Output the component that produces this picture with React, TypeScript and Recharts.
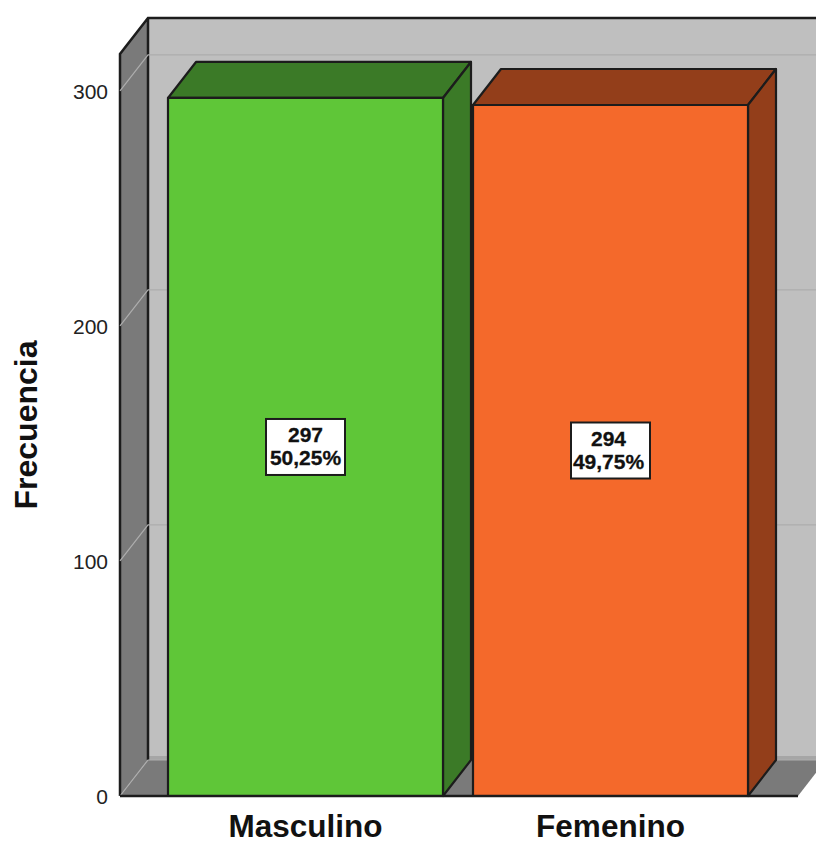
import React from "react";
import {
  BarChart,
  Bar,
  XAxis,
  YAxis,
  CartesianGrid,
  LabelList,
  Cell,
  usePlotArea,
} from "recharts";

const categories = ["Masculino", "Femenino"];
const counts = [297, 294];
const percents = ["50,25%", "49,75%"];
const yTicks = [0, 100, 200, 300];
const yMax = 315.7;

const faceColors = ["#5fc638", "#f4692b"];
const shadeColors = ["#3b7a27", "#933e1a"];

const data = categories.map((name, i) => ({ name, count: counts[i], percent: percents[i] }));

// depth of the fake 3D projection
const DX = 28;
const DY = 36;
const FONT = "'Liberation Sans', Arial, sans-serif";
const EDGE = "#1c1c1c";

// back wall, side wall and floor behind the bars
const Walls = () => {
  const plot = usePlotArea();
  if (!plot) return null;
  const left = plot.x;
  const right = plot.x + plot.width;
  const top = plot.y;
  const bottom = plot.y + plot.height;
  return (
    <g>
      <rect x={left + DX} y={top - DY} width={right - left} height={bottom - top} fill="#bfbfbf" />
      <rect x={left + DX} y={bottom - DY - 4} width={right - left} height={4} fill="#a6a6a6" />
      <polygon
        points={`${left},${top} ${left + DX},${top - DY} ${left + DX},${bottom - DY} ${left},${bottom}`}
        fill="#7a7a7a"
      />
      <polygon
        points={`${left},${bottom} ${left + DX},${bottom - DY} ${right + DX},${bottom - DY} ${right},${bottom}`}
        fill="#7a7a7a"
      />
      <path
        d={`M${left},${bottom} L${left},${top} L${left + DX},${top - DY} L${right + DX},${top - DY} M${left + DX},${top - DY} L${left + DX},${bottom - DY}`}
        fill="none"
        stroke={EDGE}
        strokeWidth={2.5}
      />
    </g>
  );
};

// gridline bent along the side wall and on across the back wall
const GridLine = (props: any) => {
  const { x1, x2, y1 } = props;
  return (
    <path
      key={props.key ?? y1}
      d={`M${x1},${y1} L${x1 + DX},${y1 - DY} L${x2 + DX},${y1 - DY}`}
      fill="none"
      stroke="#adadad"
      strokeWidth={1.2}
    />
  );
};

const Box3D = (props: any) => {
  const { x, y, width, height, index } = props;
  const face = faceColors[index];
  const shade = shadeColors[index];
  const r = x + width;
  const b = y + height;
  return (
    <g stroke={EDGE} strokeWidth={2.2} strokeLinejoin="round">
      <polygon points={`${x},${y} ${x + DX},${y - DY} ${r + DX},${y - DY} ${r},${y}`} fill={shade} />
      <polygon points={`${r},${y} ${r + DX},${y - DY} ${r + DX},${b - DY} ${r},${b}`} fill={shade} />
      <rect x={x} y={y} width={width} height={height} fill={face} />
    </g>
  );
};

const ValueBox = (props: any) => {
  const { x, y, width, height, index } = props;
  const cx = x + width / 2;
  const cy = y + height / 2;
  // the second box has its text sitting a little left of centre
  const tx = index === 1 ? cx - 2 : cx;
  const textProps = {
    textAnchor: "middle" as const,
    fontFamily: FONT,
    fontWeight: "bold",
    fontSize: 21,
    fill: "#111",
    stroke: "#111",
    strokeWidth: 0.3,
  };
  return (
    <g>
      <rect x={cx - 39.5} y={cy - 28} width={79} height={56} fill="#ffffff" stroke={EDGE} strokeWidth={2} />
      <text x={tx} y={cy - 5} {...textProps}>
        {counts[index]}
      </text>
      <text x={tx} y={cy + 18} {...textProps}>
        {percents[index]}
      </text>
    </g>
  );
};

const App = () => {
  return (
    <div style={{ position: "absolute", left: 0, top: 0 }}>
      <BarChart
        width={816}
        height={843}
        data={data}
        margin={{ top: 54, right: 18, bottom: 0, left: 0 }}
        barSize={275}
      >
        <Walls />
        <CartesianGrid
          vertical={false}
          horizontal={GridLine}
          syncWithTicks
          horizontalValues={yTicks}
          {...({ zIndex: 100 } as any)}
        />
        <XAxis
          dataKey="name"
          height={47}
          padding={{ left: 33, right: 35 }}
          tickLine={false}
          axisLine={{ stroke: EDGE, strokeWidth: 2.5 }}
          tickMargin={13}
          tick={{ fontFamily: FONT, fontWeight: "bold", fontSize: 31.5, fill: "#111" }}
        />
        <YAxis
          width={120}
          domain={[0, yMax]}
          ticks={yTicks}
          tickLine={false}
          axisLine={false}
          tickMargin={6}
          tick={{ fontFamily: FONT, fontSize: 21, fill: "#222", dy: 1 }}
          label={{
            value: "Frecuencia",
            angle: -90,
            position: "insideLeft",
            offset: 26,
            style: { fontFamily: FONT, fontWeight: "bold", fontSize: 32, fill: "#111", textAnchor: "middle" },
          }}
        />
        <Bar dataKey="count" shape={Box3D} isAnimationActive={false}>
          {data.map((d, i) => (
            <Cell key={d.name} fill={faceColors[i]} />
          ))}
          <LabelList dataKey="count" content={ValueBox} />
        </Bar>
      </BarChart>
    </div>
  );
};

export default App;
